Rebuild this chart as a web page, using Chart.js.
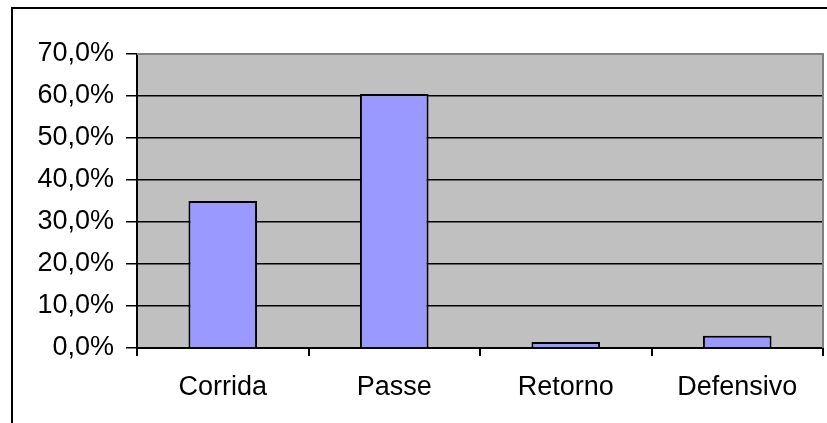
<!DOCTYPE html>
<html>
<head>
<meta charset="utf-8">
<script src="https://cdn.jsdelivr.net/npm/chart.js@4"></script>
<style>
  html, body { margin: 0; padding: 0; background: #fff; }
  #wrap { width: 827px; height: 423px; }
</style>
</head>
<body>
<div id="wrap"><canvas id="chart" width="827" height="423"></canvas></div>
<script>
const categories = ['Corrida', 'Passe', 'Retorno', 'Defensivo'];
const shares = [35.0, 60.5, 1.4, 2.9];
const yTicks = [0, 10, 20, 30, 40, 50, 60, 70];

const fmt = v => v.toFixed(1).replace('.', ',') + '%';

// gray plot area + outer frame, like the Excel chart
const excelFrame = {
    id: 'excelFrame',
    beforeDraw(chart) {
        const { ctx, chartArea: a } = chart;
        ctx.save();
        ctx.fillStyle = '#c0c0c0';
        ctx.fillRect(a.left, a.top, a.right - a.left, a.bottom - a.top);
        ctx.strokeStyle = '#000';
        ctx.lineWidth = 2;
        ctx.strokeRect(12, 8, 900, 500);
        ctx.restore();
    },
    afterDatasetsDraw(chart) {
        const { ctx, chartArea: a } = chart;
        ctx.save();
        ctx.strokeStyle = '#808080';
        ctx.lineWidth = 2;
        ctx.beginPath();
        ctx.moveTo(a.left, a.top);
        ctx.lineTo(a.right, a.top);
        ctx.lineTo(a.right, a.bottom);
        ctx.stroke();
        ctx.restore();
    }
};

const font = { family: "'Liberation Sans', Arial, sans-serif", size: 27 };

new Chart(document.getElementById('chart'), {
    type: 'bar',
    data: {
        labels: categories,
        datasets: [{
            data: shares,
            backgroundColor: '#9999ff',
            borderColor: '#000',
            borderWidth: 2,
            borderSkipped: 'bottom',
            categoryPercentage: 1,
            barPercentage: 0.4
        }]
    },
    options: {
        responsive: false,
        animation: false,
        layout: { padding: { top: 54, right: 4, left: 0, bottom: 0 } },
        plugins: {
            legend: { display: false },
            tooltip: { enabled: false }
        },
        scales: {
            x: {
                afterFit: s => { s.height = 75; },
                grid: {
                    offset: true,
                    drawOnChartArea: false,
                    drawTicks: true,
                    tickLength: 8,
                    color: '#000',
                    lineWidth: 2
                },
                border: { color: '#000', width: 2 },
                ticks: { color: '#000', font: font, padding: 15, maxRotation: 0 }
            },
            y: {
                min: 0,
                max: 70,
                afterFit: s => { s.width = 137; },
                afterBuildTicks: s => { s.ticks = yTicks.map(v => ({ value: v })); },
                grid: {
                    color: ctx => ctx.tick && ctx.tick.value === 70 ? '#808080' : '#000',
                    lineWidth: 1.5,
                    tickLength: 11,
                    tickColor: '#000'
                },
                border: { color: '#000', width: 2 },
                ticks: { color: '#000', font: font, padding: 12, callback: v => fmt(v) }
            }
        }
    },
    plugins: [excelFrame]
});
</script>
</body>
</html>
